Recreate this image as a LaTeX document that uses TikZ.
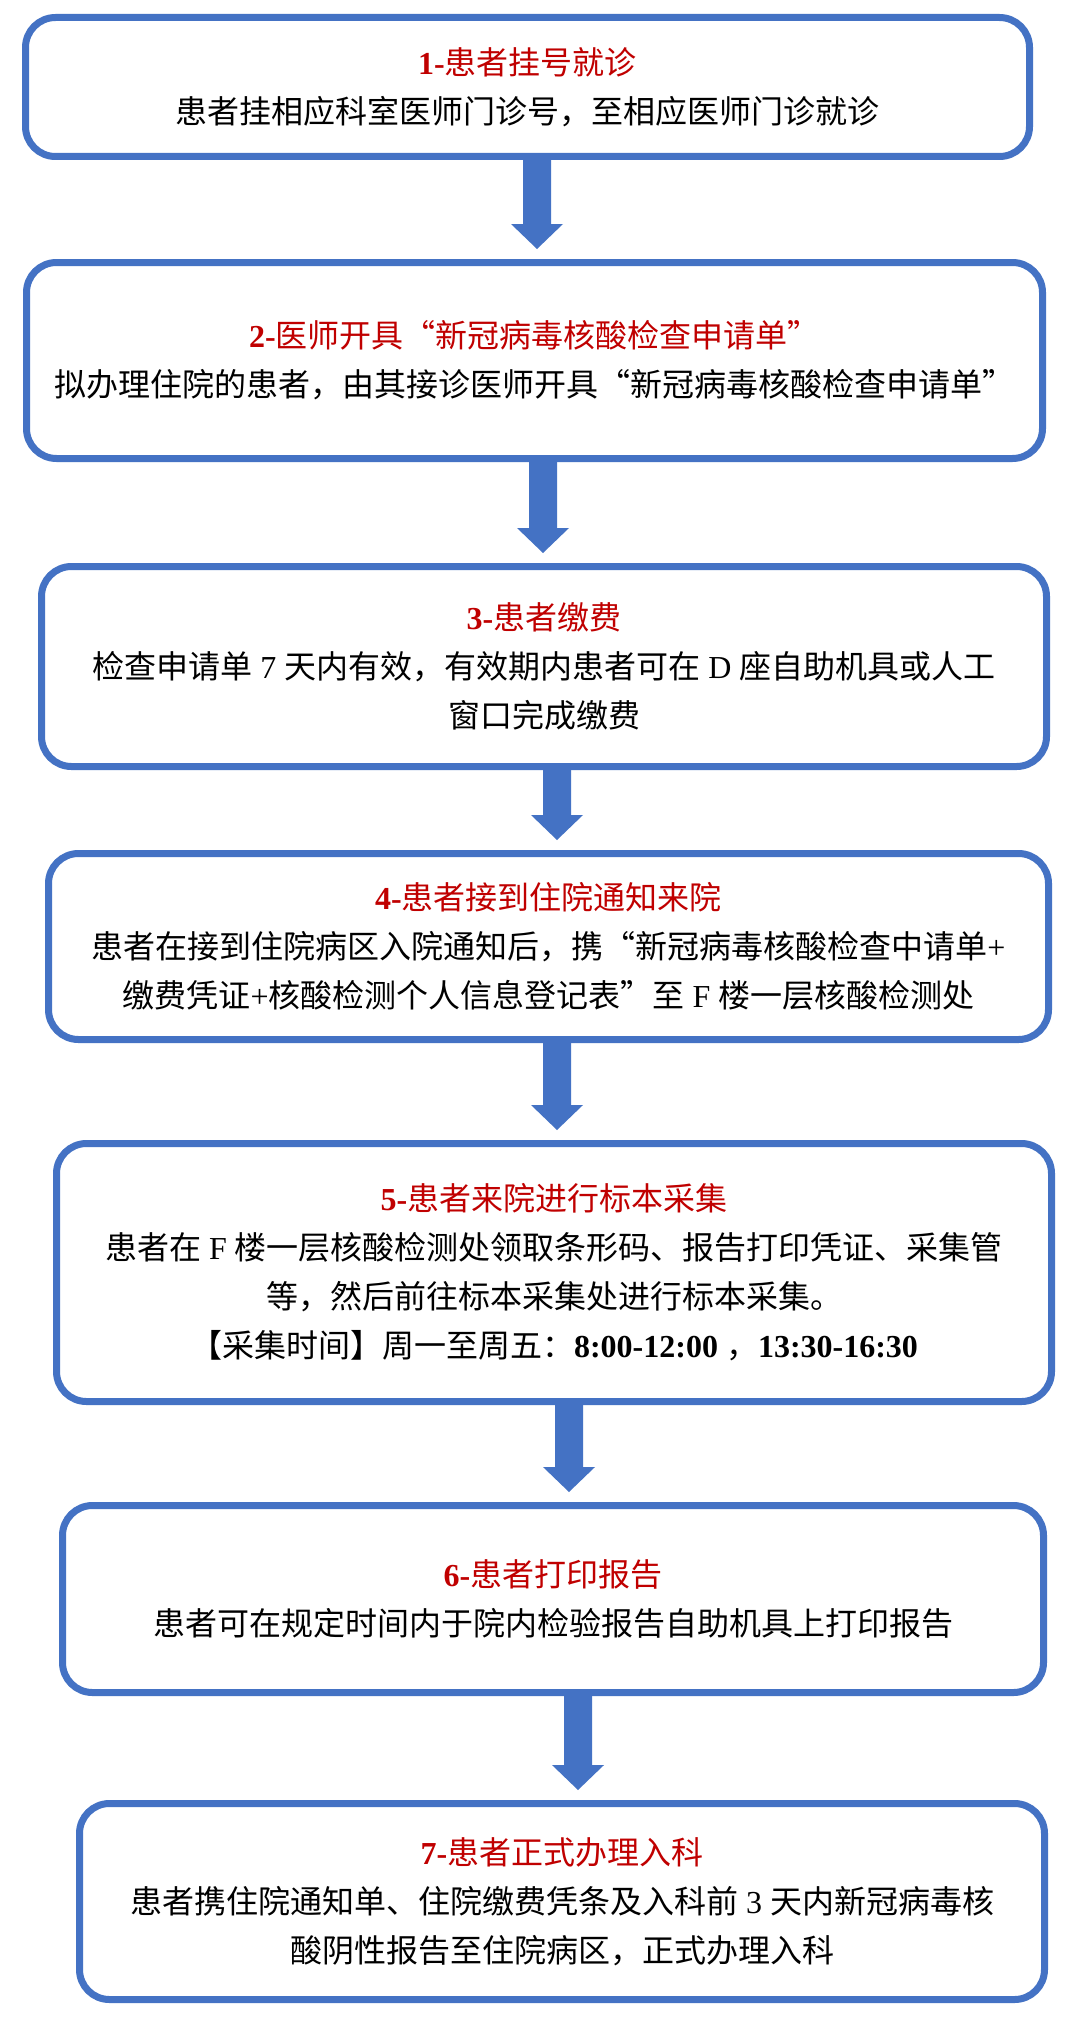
\documentclass[tikz,border=0pt]{standalone}
\usepackage{fontspec}
\setmainfont{Liberation Serif}
\newfontfamily\cjk{Noto Sans CJK SC}
\usetikzlibrary{calc}
\definecolor{ablue}{RGB}{68,114,196}
\definecolor{tred}{RGB}{192,0,0}
\newcommand\lat[1]{{\rmfamily#1}}
\newcommand\ttl[2]{{\color{tred}\lat{\bfseries #1}#2}}
\newcommand\flowarr[3]{%
  \path (#1 |- #2.south) coordinate (fs) (#1 |- #3.north) coordinate (fe);
  \fill[ablue] ($(fs)+(-14,0)$) -- ($(fe)+(-14,-35)$) -- ($(fe)+(-26,-35)$)
    -- ($(fe)+(0,-10)$) -- ($(fe)+(26,-35)$) -- ($(fe)+(14,-35)$)
    -- ($(fs)+(14,0)$) -- cycle;}
\tikzset{stepbox/.style={draw=ablue, line width=7pt, rounded corners=30pt,
  fill=white, align=center, inner sep=0pt,
  font=\cjk\fontsize{32}{49}\selectfont}}
\begin{document}
\begin{tikzpicture}[x=1pt,y=-1pt]
\useasboundingbox[fill=white] (0,0) rectangle (1080,2028);
\node[stepbox, minimum width=1004, minimum height=139] (b1) at (527.5,87)
  {\ttl{1-}{患者挂号就诊}\\患者挂相应科室医师门诊号，至相应医师门诊就诊};
\node[stepbox, minimum width=1016, minimum height=196] (b2) at (534.5,360.5)
  {\ttl{2-}{医师开具“新冠病毒核酸检查申请单”}\\拟办理住院的患者，由其接诊医师开具“新冠病毒核酸检查申请单”};
\node[stepbox, minimum width=1005, minimum height=200] (b3) at (544,666.5)
  {\ttl{3-}{患者缴费}\\检查申请单\lat{ 7 }天内有效，有效期内患者可在\lat{ D }座自助机具或人工\\窗口完成缴费};
\node[stepbox, minimum width=1000, minimum height=186] (b4) at (548.5,946.5)
  {\ttl{4-}{患者接到住院通知来院}\\患者在接到住院病区入院通知后，携“新冠病毒核酸检查中请单\lat{+}\\缴费凭证\lat{+}核酸检测个人信息登记表”至\lat{ F }楼一层核酸检测处};
\node[stepbox, minimum width=995, minimum height=258] (b5) at (554,1272.5)
  {\ttl{5-}{患者来院进行标本采集}\\患者在\lat{ F }楼一层核酸检测处领取条形码、报告打印凭证、采集管\\等，然后前往标本采集处进行标本采集。\\【采集时间】周一至周五：\lat{\bfseries 8:00-12:00 }，\lat{\bfseries 13:30-16:30}};
\node[stepbox, minimum width=981, minimum height=187] (b6) at (553,1599)
  {\ttl{6-}{患者打印报告}\\患者可在规定时间内于院内检验报告自助机具上打印报告};
\node[stepbox, minimum width=965, minimum height=196] (b7) at (562,1901.5)
  {\ttl{7-}{患者正式办理入科}\\患者携住院通知单、住院缴费凭条及入科前\lat{ 3 }天内新冠病毒核\\酸阴性报告至住院病区，正式办理入科};
\coordinate (x1) at (537,0);
\coordinate (x2) at (543,0);
\coordinate (x3) at (557,0);
\coordinate (x4) at (557,0);
\coordinate (x5) at (569,0);
\coordinate (x6) at (578,0);
\flowarr{x1}{b1}{b2}
\flowarr{x2}{b2}{b3}
\flowarr{x3}{b3}{b4}
\flowarr{x4}{b4}{b5}
\flowarr{x5}{b5}{b6}
\flowarr{x6}{b6}{b7}
\end{tikzpicture}
\end{document}
